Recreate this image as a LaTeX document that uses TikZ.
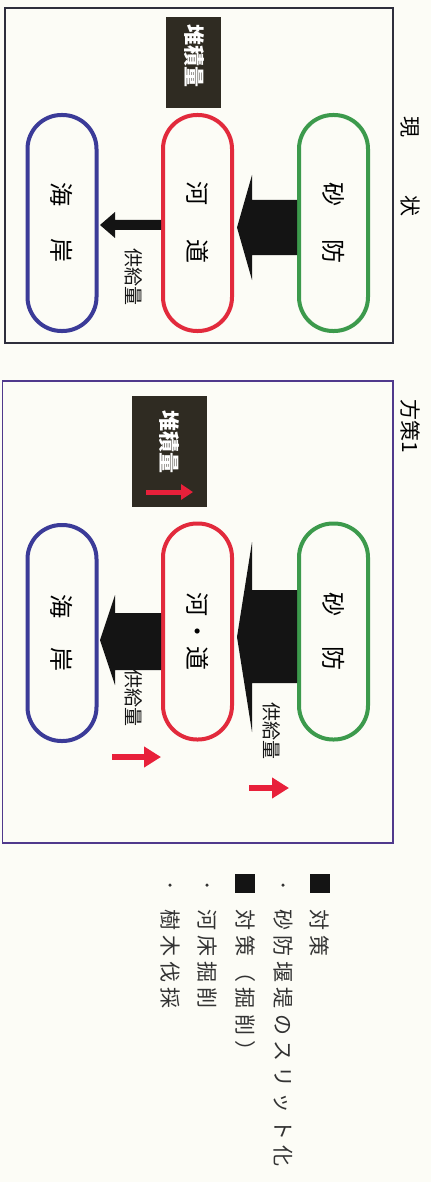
\documentclass[tikz,border=0pt]{standalone}
\usepackage{fontspec}
\newfontfamily\jp{Noto Sans CJK JP}
\usetikzlibrary{calc,arrows.meta}
\definecolor{paper}{HTML}{FCFCF6}
\definecolor{frameA}{HTML}{2E2E3C}
\definecolor{frameB}{HTML}{50398C}
\definecolor{sgreen}{HTML}{3C9A4C}
\definecolor{sred}{HTML}{E22A3C}
\definecolor{sblue}{HTML}{3B3B98}
\definecolor{boxdark}{HTML}{2F2B22}
\definecolor{arrred}{HTML}{E8203A}
\definecolor{blk}{HTML}{141414}
\begin{document}
\begin{tikzpicture}[x=1pt,y=-1pt,
  stad/.style={draw, line width=4pt, rounded corners=34pt, minimum width=69pt,
    minimum height=216pt, inner sep=0pt, font=\jp\fontsize{24}{24}\selectfont},
  panelframe/.style={line width=1.3pt},
  tlabel/.style={rotate=-90, inner sep=0pt, font=\jp\fontsize{21}{21}\selectfont},
  sup/.style={rotate=-90, inner sep=0pt, font=\jp\fontsize{19}{19}\selectfont, text=blk},
  depo/.style={fill=boxdark, inner sep=0pt},
  depotext/.style={rotate=-90, inner sep=0pt, font=\jp\bfseries\fontsize{21}{21}\selectfont, text=white},
  redarr/.style={draw=arrred, line width=6.5pt, -{Triangle[length=17pt,width=20pt]}},
  legtext/.style={rotate=-90, anchor=west, inner sep=0pt, font=\jp\fontsize{21}{21}\selectfont\addfontfeature{LetterSpace=25}, text=black!80},
  legsq/.style={fill=blk, minimum width=20pt, minimum height=19pt, inner sep=0pt},
  legdot/.style={circle, fill=black!80, minimum size=3.5pt, inner sep=0pt}
]
\fill[paper] (0,0) rectangle (431,1182);
\useasboundingbox (0,0) rectangle (431,1182);

% ---------------- Panel 1 : 現状 ----------------
\draw[panelframe, frameA] (5,8) rectangle (393,343);
\node[tlabel] (title1) at (410,167) {現\hspace{58pt}状};

\node[depo, minimum width=55pt, minimum height=91pt] (depo1) at (193.5,62.5) {};
\node[depotext] (depo1t) at (194,56) {堆積量};

\node[stad, draw=sgreen] (sabo1) at (333.5,223) {\rotatebox{-90}{砂\hspace{33pt}防}};
\node[stad, draw=sred] (kado1) at (197.5,223) {\rotatebox{-90}{河\hspace{34pt}道}};
\node[stad, draw=sblue] (kaigan1) at (62,223) {\rotatebox{-90}{海\hspace{32pt}岸}};

\fill[blk] (sabo1.west |- 0,200) -- (252,200) -- (252,175)
  -- ($(kado1.east |- 0,227.5)+(3,0)$) -- (252,280) -- (252,255)
  -- (sabo1.west |- 0,255) -- cycle;
\fill[blk] (kado1.west |- 0,220) -- (115,220) -- (115,212)
  -- ($(kaigan1.east |- 0,225)+(1.5,0)$) -- (115,238) -- (115,230)
  -- (kado1.west |- 0,230) -- cycle;
\node[sup] (sup1) at (134,277) {供給量};

% ---------------- Panel 2 : 方策1 ----------------
\draw[panelframe, frameB] (2.5,381) rectangle (393,843);
\node[tlabel, anchor=west] (title2) at (410,399) {方策1};

\node[depo, minimum width=75pt, minimum height=111pt] (depo2) at (169.5,451) {};
\node[depotext] (depo2t) at (169,442) {堆積量};
\coordinate (r0s) at (146,492);
\coordinate (r0e) at (193,492);
\draw[redarr, line width=5pt, -{Triangle[length=12pt,width=15pt]}] (r0s) -- (r0e);

\node[stad, draw=sgreen] (sabo2) at (333.5,631.5) {\rotatebox{-90}{砂\hspace{30pt}防}};
\node[stad, draw=sred] (kado2) at (197.5,631.5) {\rotatebox{-90}{河\hspace{3pt}・\hspace{3pt}道}};
\node[stad, draw=sblue] (kaigan2) at (62,633) {\rotatebox{-90}{海\hspace{30pt}岸}};

\fill[blk] (sabo2.west |- 0,590) -- (252,590) -- (252,542)
  -- ($(kado2.east |- 0,637)+(3,0)$) -- (252,732) -- (252,683)
  -- (sabo2.west |- 0,683) -- cycle;
\fill[blk] (kado2.west |- 0,613) -- (115,613) -- (115,595)
  -- ($(kaigan2.east |- 0,640)+(1.5,0)$) -- (115,685) -- (115,670)
  -- (kado2.west |- 0,670) -- cycle;

\node[sup] (sup2a) at (134,698) {供給量};
\node[sup] (sup2b) at (272,731) {供給量};
\coordinate (r1s) at (112,757);
\coordinate (r1e) at (161,757);
\draw[redarr] (r1s) -- (r1e);
\coordinate (r2s) at (249,788);
\coordinate (r2e) at (289,788);
\draw[redarr] (r2s) -- (r2e);

% ---------------- Legend ----------------
\node[legsq] (sq1) at (320,883) {};
\node[legtext] (l1) at (320,909) {対策};
\node[legdot] (d1) at (283,885) {};
\node[legtext] (l2) at (283,909) {砂防堰堤のスリット化};
\node[legsq] (sq2) at (245,883) {};
\node[legtext] (l3) at (245,909) {対策（掘削）};
\node[legdot] (d2) at (207,885) {};
\node[legtext] (l4) at (207,909) {河床掘削};
\node[legdot] (d3) at (170,885) {};
\node[legtext] (l5) at (170,909) {樹木伐採};
\end{tikzpicture}
\end{document}
